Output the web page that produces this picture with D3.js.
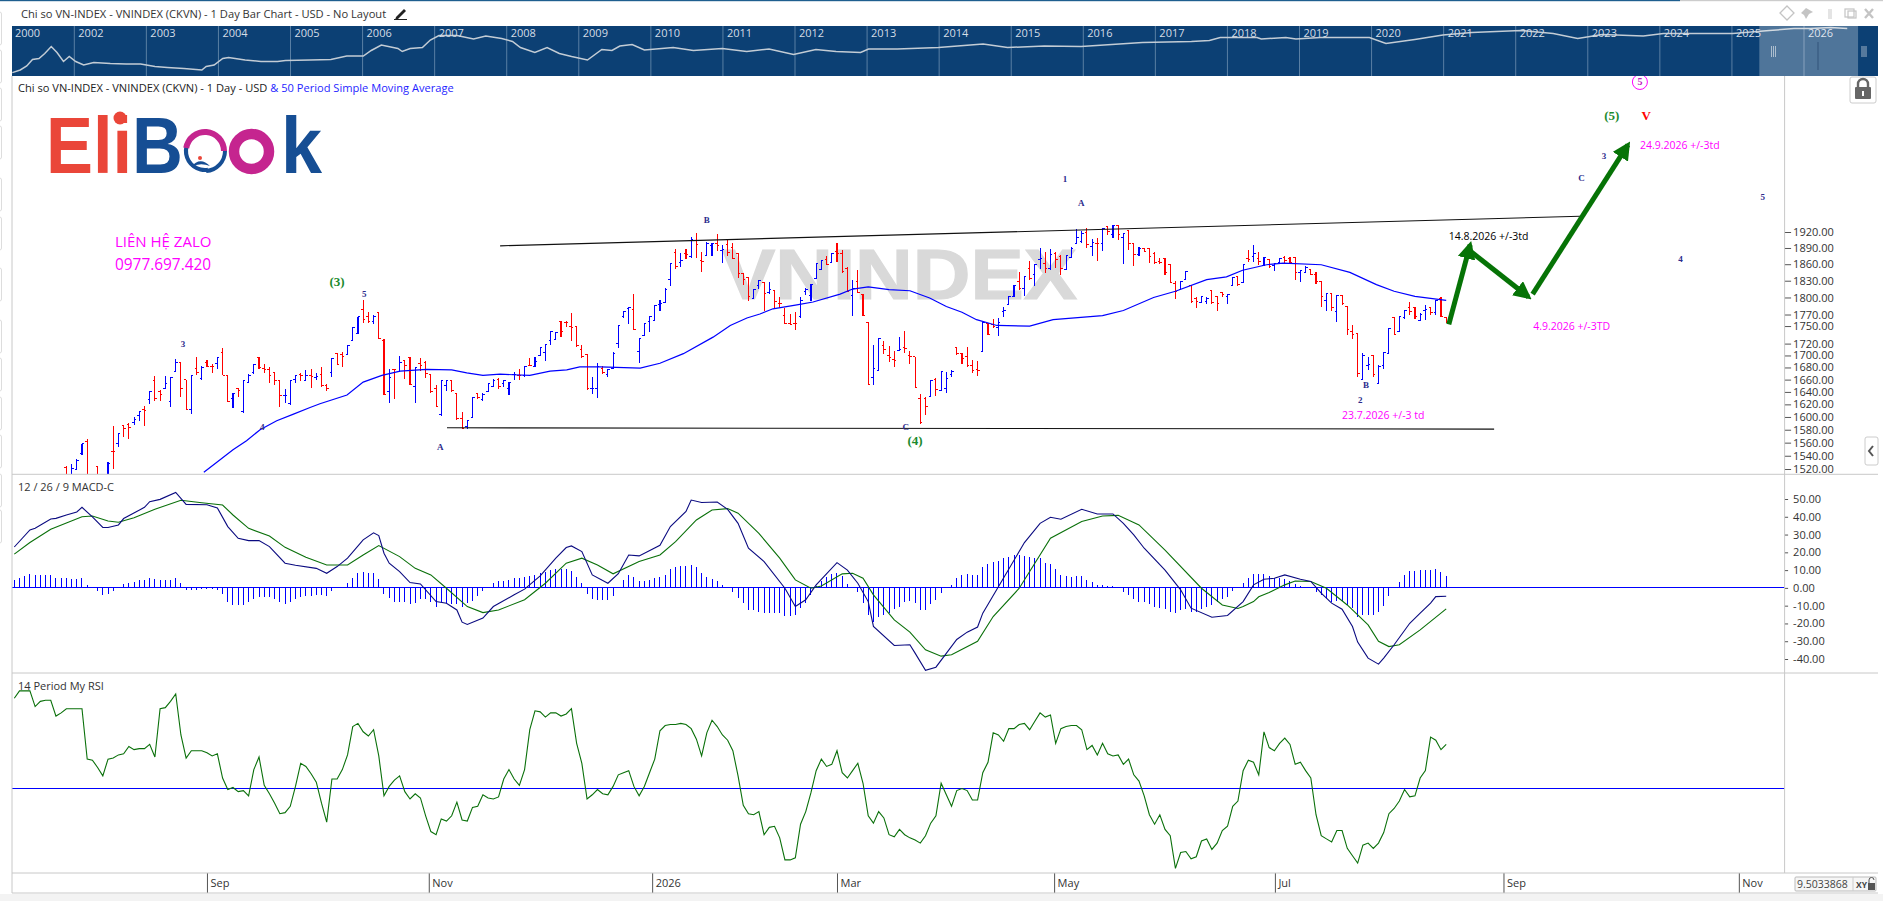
<!DOCTYPE html>
<html>
<head>
<meta charset="utf-8">
<title>VNINDEX</title>
<script src="https://cdn.jsdelivr.net/npm/d3@7"></script>
<style>
  html, body { margin: 0; padding: 0; background: #fff; overflow: hidden; }
  svg { display: block; }
  text { font-family: "Open Sans", sans-serif; }
  .wave { font-family: "Liberation Serif", serif; font-weight: bold; }
  .tick text { font-size: 11px; fill: #333; font-family: "Open Sans", sans-serif; }
  .tick line { stroke: #555; }
</style>
</head>
<body>
<svg id="chart" width="1883" height="901"></svg>
<script>
// daily bars, first ten sit below the visible part of the panel
var opens = [1430,1436,1445,1452,1458,1462,1468,1474,1480,1486,
1522,1505,1520,1543,1562,1505,1523,1492,1505,1547,
1559,1587,1588,1591,1603,1612,1628,1659,1641,1646,
1625,1674,1688,1660,1612,1678,1662,1689,1682,1687,
1705,1667,1629,1645,1608,1656,1671,1697,1678,1676,
1672,1659,1634,1621,1660,1669,1658,1667,1663,1669,
1651,1672,1704,1702,1701,1725,1737,1779,1766,1758,
1774,1726,1640,1677,1674,1691,1697,1648,1686,1689,
1669,1645,1604,1651,1658,1638,1598,1585,1599,1637,
1627,1641,1649,1660,1653,1646,1668,1667,1666,1684,
1681,1700,1705,1726,1727,1758,1757,1749,1749,1710,
1701,1645,1645,1678,1668,1679,1721,1766,1781,1778,
1706,1734,1758,1760,1787,1791,1832,1882,1864,1880,
1874,1904,1866,1876,1895,1898,1886,1896,1890,1880,
1843,1836,1799,1822,1826,1808,1813,1790,1769,1754,
1755,1766,1810,1804,1834,1850,1869,1864,1883,1880,
1853,1804,1829,1806,1757,1664,1675,1717,1700,1693,
1708,1714,1700,1698,1629,1630,1632,1661,1643,1645,
1669,1713,1703,1698,1683,1676,1707,1754,1753,1748,
1776,1788,1802,1829,1816,1852,1841,1868,1862,1852,
1880,1874,1851,1872,1899,1902,1920,1893,1899,1899,
1930,1915,1932,1910,1923,1898,1877,1889,1889,1880,
1865,1870,1859,1825,1815,1832,1822,1799,1791,1792,
1812,1802,1809,1801,1822,1837,1826,1870,1874,1871,
1858,1868,1857,1863,1873,1871,1872,1844,1845,1850,
1841,1828,1795,1807,1776,1804,1784,1741,1737,1661,
1684,1700,1654,1683,1704,1765,1741,1764,1783,1783,
1759,1777,1782,1773,1799,1765]
var highs = [1455,1462,1470,1476,1482,1488,1494,1498,1503,1508,
1524,1527,1535,1558,1565,1508,1524,1510,1530,1586,
1574,1588,1590,1600,1609,1617,1641,1666,1643,1666,
1665,1694,1689,1660,1668,1697,1682,1693,1685,1698,
1712,1667,1638,1646,1659,1669,1686,1697,1686,1680,
1672,1659,1645,1658,1668,1671,1675,1677,1671,1680,
1653,1696,1704,1705,1717,1748,1766,1796,1775,1769,
1774,1727,1677,1678,1699,1692,1697,1680,1695,1690,
1670,1652,1659,1659,1659,1639,1608,1595,1631,1639,
1638,1654,1661,1662,1660,1656,1673,1677,1682,1695,
1698,1714,1719,1741,1740,1759,1759,1772,1750,1718,
1702,1665,1687,1683,1677,1705,1751,1777,1784,1806,
1730,1754,1767,1787,1796,1816,1862,1888,1880,1888,
1910,1918,1883,1901,1899,1916,1896,1905,1899,1880,
1844,1837,1815,1832,1827,1828,1814,1800,1782,1771,
1774,1800,1816,1824,1862,1868,1876,1881,1899,1886,
1854,1832,1849,1807,1757,1717,1729,1725,1716,1707,
1732,1742,1707,1698,1636,1632,1659,1662,1674,1672,
1675,1714,1704,1714,1693,1690,1757,1755,1763,1764,
1784,1802,1823,1845,1839,1865,1861,1890,1882,1888,
1882,1877,1876,1891,1925,1922,1927,1907,1909,1927,
1932,1933,1933,1919,1924,1898,1891,1890,1890,1882,
1872,1871,1860,1830,1830,1847,1823,1800,1803,1801,
1813,1803,1810,1807,1836,1838,1860,1886,1896,1882,
1874,1869,1862,1871,1876,1874,1873,1850,1856,1851,
1845,1829,1808,1808,1805,1805,1785,1751,1738,1704,
1697,1701,1684,1706,1747,1766,1768,1778,1792,1784,
1773,1787,1783,1795,1800,1766]
var lows = [1425,1432,1440,1448,1452,1458,1462,1470,1474,1480,
1500,1500,1520,1541,1489,1480,1490,1490,1500,1520,
1553,1569,1566,1588,1593,1586,1621,1625,1626,1644,
1616,1673,1631,1611,1605,1668,1660,1680,1671,1677,
1667,1624,1614,1631,1606,1655,1670,1678,1671,1655,
1652,1616,1622,1619,1655,1658,1657,1647,1659,1648,
1641,1664,1684,1681,1700,1724,1736,1755,1755,1753,
1727,1635,1622,1628,1673,1661,1651,1622,1674,1663,
1639,1615,1602,1641,1640,1596,1581,1581,1598,1628,
1625,1640,1648,1644,1648,1635,1659,1659,1665,1682,
1680,1699,1691,1717,1726,1731,1748,1725,1714,1695,
1643,1636,1630,1670,1665,1678,1713,1764,1753,1743,
1687,1733,1740,1759,1776,1790,1821,1852,1854,1870,
1872,1872,1846,1875,1876,1885,1862,1876,1869,1835,
1823,1794,1798,1815,1777,1807,1781,1782,1754,1751,
1743,1764,1805,1794,1833,1849,1859,1862,1864,1844,
1809,1768,1808,1767,1651,1651,1674,1702,1689,1681,
1707,1704,1685,1647,1589,1603,1631,1634,1642,1639,
1664,1701,1686,1680,1671,1666,1706,1734,1747,1733,
1766,1787,1800,1814,1802,1832,1821,1852,1844,1850,
1853,1841,1850,1871,1897,1899,1890,1875,1866,1884,
1914,1909,1905,1861,1886,1857,1876,1882,1862,1860,
1860,1841,1825,1798,1814,1831,1790,1781,1790,1789,
1789,1776,1800,1788,1820,1821,1825,1864,1864,1858,
1857,1853,1847,1860,1862,1860,1831,1827,1844,1840,
1824,1783,1776,1777,1757,1786,1734,1728,1665,1660,
1676,1664,1653,1678,1703,1734,1739,1762,1770,1763,
1758,1760,1770,1770,1766,1755]
var closes = [1452,1458,1466,1472,1478,1484,1490,1494,1500,1505,
1505,1521,1533,1558,1495,1485,1495,1508,1529,1546,
1574,1582,1584,1596,1609,1611,1641,1630,1636,1654,
1664,1689,1646,1612,1667,1671,1680,1681,1681,1697,
1667,1625,1637,1642,1659,1667,1685,1680,1677,1666,
1659,1634,1635,1658,1666,1666,1667,1665,1665,1651,
1646,1695,1685,1699,1717,1748,1766,1762,1758,1767,
1729,1636,1664,1676,1688,1684,1652,1680,1684,1670,
1640,1616,1658,1658,1642,1597,1582,1594,1631,1631,
1636,1653,1659,1649,1658,1655,1669,1666,1681,1683,
1690,1713,1719,1741,1739,1740,1756,1748,1717,1699,
1646,1646,1681,1672,1676,1704,1751,1775,1783,1744,
1729,1754,1766,1785,1789,1815,1861,1855,1867,1877,
1906,1896,1865,1899,1898,1894,1887,1882,1871,1843,
1832,1801,1814,1830,1807,1814,1792,1789,1755,1753,
1754,1795,1814,1823,1861,1867,1860,1880,1879,1846,
1810,1816,1809,1768,1652,1678,1729,1710,1696,1692,
1710,1712,1698,1647,1591,1616,1658,1644,1673,1662,
1674,1703,1695,1684,1675,1675,1756,1735,1750,1757,
1777,1801,1821,1816,1837,1834,1860,1871,1852,1878,
1869,1852,1876,1889,1909,1917,1896,1900,1898,1926,
1921,1932,1915,1918,1899,1877,1889,1883,1874,1864,
1864,1845,1827,1810,1829,1846,1792,1792,1802,1798,
1791,1790,1806,1806,1835,1823,1859,1868,1880,1865,
1873,1855,1861,1870,1867,1863,1844,1849,1854,1842,
1829,1801,1807,1783,1804,1789,1744,1735,1670,1700,
1685,1669,1682,1705,1746,1735,1767,1777,1776,1766,
1770,1778,1773,1794,1767,1756]

// 50 period moving average, vertices
var maDays = [36.4,38.9,42,44.6,47.2,50.4,53.5,56.8,58.7,63.9,67,70.6,74.1,79.2,84,86.9,90,93.3,95.8,99,102.9,106.1,108.6,112.5,120.2,124,128.5,134.2,137.5,140.7,143.2,145.7,150.3,153.4,158.6,161,164,168,172,175.8,179,182,184.8,188.7,195,199.5,209,213,218.8,223,229,232.8,235.9,240.5,243.7,251,256.5,261.6,265,269,275]
var maValues = [1515,1530,1549,1563,1580,1594,1604,1615,1621,1635,1656,1667,1674,1677,1676,1671,1667,1669,1668,1667,1674,1676,1681,1681,1679,1687,1703,1731,1751,1764,1771,1780,1787,1792,1806,1815,1819,1814,1812,1799,1784,1774,1761,1751,1750,1761,1768,1777,1800,1811,1832,1837,1849,1859,1862,1859,1845,1823,1811,1802,1795]

var macdDays = [0,3,4,7,8,10,12,13,15,17,18,20,21,25,26,28,31,33,37,39,41,43,45,47,49,52,54,58,60,62,64,67,69,70,71,72,74,76,78,81,83,85,86,87,90,92,96,98,101,104,106,107,109,111,114,116,118,120,124,126,129,130,132,135,137,139,141,144,148,150,152,154,158,160,162,164,165,169,172,173,175,177,181,183,185,186,194,197,199,201,205,208,211,213,215,217,221,224,226,230,233,236,238,240,242,244,247,249,251,253,255,257,258,260,262,263,265,268,270,272,273,275]
var macdValues = [23,32.6,33.5,38.8,39.1,41,42.7,45.3,40,34,34,35.4,39,45.3,48.5,49.8,53.7,47,46.8,45,34.5,27.9,26.6,26.6,23.2,13.9,12.7,11,8.2,12,16.7,27,31,29.4,19.5,13.9,9.2,3,2.2,-7.7,-8.6,-12.4,-19.3,-20.6,-17,-10.5,-3.9,-0.7,6.7,16.7,22.7,23.6,20.4,7.3,2.6,8,18.5,18,24,34.5,43,49.4,48,48.3,44.2,36.3,22.3,14.8,-0.2,-10.5,-6.7,1.7,14.2,10,2.6,-7.7,-21.7,-32.4,-32,-36.7,-46.4,-44.6,-29,-24.9,-22,-14.2,25.5,36.3,39.7,38.6,44.2,41.6,41.6,36.3,29.8,22.3,10,-1.1,-11.4,-16.5,-15.5,-7.7,1.7,4.9,5.4,7.3,4.9,3.6,-3,-8.6,-12,-21.7,-30.5,-39.5,-42.9,-39.5,-32,-19.9,-14.2,-8.6,-4.9,-4.7]
var signalDays = [0,3,7,13,15,18,20,23,27,32,36,40,42,45,49,52,56,60,64,67,70,74,77,80,83,87,90,93,98,102,106,109,112,115,120,124,127,131,134,137,139,143,147,150,153,155,159,161,163,165,169,172,175,178,180,185,188,193,199,205,209,212,216,221,228,232,235,236,238,239,241,244,246,249,252,256,260,262,264,266,270,275]
var signalValues = [19,25.5,33,40,40.4,37.6,36.9,39.5,44.2,49.3,47.9,46.6,41,33.5,29.2,22.8,17.2,12.9,12.9,18.5,23.8,17.6,11,7.3,-0.2,-10.5,-13.9,-12.4,-6.7,2.6,13.9,16.7,12.9,7.9,14.8,18.5,26,38.2,43.8,44.6,42,30.7,16.7,4.5,-0.2,1.1,7.9,8.2,5.4,-3.9,-18,-24.9,-34.8,-38.4,-37.6,-30,-16.1,-0.2,27.9,37.3,40.4,40.8,35.4,21.3,-0.2,-9.6,-11.6,-10.5,-7.7,-5,-2.6,1.7,3.9,3.6,-0.2,-9.6,-20.8,-30,-33,-32,-23.6,-11.8]
var histValues = [4.5,5.4,6.7,7.7,7.3,7.3,7.3,7.3,5.8,5.8,5.4,5,5,5.8,1.7,0,-2,-4.1,-3.4,-2,0.6,2.2,2.8,3.2,4.3,4.5,5.4,5,4.5,4.5,4.5,5.6,2.8,-1.1,-1.1,-1.1,-0.8,-0.8,-0.8,-1.1,-3.2,-8.2,-9.7,-9.9,-9.6,-8.2,-6.2,-5.1,-5.1,-5.4,-6.4,-8.2,-9,-8,-6,-5.2,-4.5,-4.5,-4.1,-4.1,-4.5,-1.5,-0.2,0.4,2.8,5.6,8.4,8.8,8.4,8.4,5,-3.4,-5.8,-7.9,-7.9,-8.2,-9.2,-8.6,-6.4,-6.4,-8.2,-10.5,-7.9,-8.6,-9.2,-9.2,-10.5,-8.6,-7.3,-4.5,-2,0.6,3,3.6,3.9,4.5,5.6,5.4,6.4,6.7,7.3,8.2,9.2,10,10.5,10.5,10.9,9.6,6.2,2.8,-3.2,-6.4,-6.7,-6.7,-6.6,-4.5,0.4,4.5,7.3,6.2,3.9,3.9,4.5,5.8,6.4,7.3,10.9,11.8,12.4,12.4,12.9,11.8,8.6,6,5,3.9,1.7,0,-2.1,-5.8,-8.6,-12.4,-12.4,-13.3,-13.9,-13.9,-13.9,-14.2,-15.7,-15.7,-15.2,-11.4,-8.6,-3.9,1.1,3.6,6,7.9,8.2,6.7,2.2,0,-2.1,-8.6,-15.2,-19.3,-16.5,-15.5,-14.2,-12,-10.9,-8.2,-7.3,-8.6,-12.7,-12.7,-9,-6.7,-2.6,0,1.7,5.8,7.3,7.9,7.3,7.3,11.6,13.5,14.6,15.4,16.7,17.6,18.5,18.5,18.2,17.2,16.7,17,13.9,13.3,10.5,7.3,6.6,6.4,6.7,6.7,4.5,3.4,1.9,1.7,1.1,0.9,0,-2.1,-3.9,-6.4,-7.9,-8.2,-9.2,-10.5,-11.2,-12,-13.3,-13.9,-12.7,-12,-13.3,-13.3,-12,-11,-9.7,-8.2,-6.2,-5.2,-1.5,0,2.6,5.4,7.9,7.9,7.9,6.7,5.8,5.4,4.9,3.6,2.2,1.3,0.7,0,-2.1,-3.9,-5.8,-8.1,-7.3,-7.3,-9.6,-11.4,-16.1,-15.5,-15.5,-15.5,-13.3,-10.1,-4.5,0,3.4,7.3,9.6,9.6,10.1,10.1,10.1,10.7,9,6.7]

var rsiValues = [0.86,0.93,0.93,0.93,0.78,0.83,0.84,0.84,0.69,0.72,
0.76,0.76,0.76,0.76,0.28,0.27,0.2,0.12,0.28,0.29,
0.32,0.33,0.4,0.37,0.38,0.38,0.42,0.3,0.76,0.77,
0.83,0.9,0.51,0.29,0.36,0.36,0.36,0.34,0.31,0.33,
0.1,-0.01,0.01,-0.03,-0.02,-0.07,0.18,0.3,0.03,-0.05,
-0.14,-0.24,-0.23,-0.17,0.02,0.24,0.21,0.14,0.06,-0.14,
-0.32,0.09,0.09,0.18,0.32,0.59,0.62,0.54,0.5,0.56,
0.31,-0.07,0.02,0.08,0.12,-0.03,-0.1,-0.05,-0.09,-0.26,
-0.41,-0.44,-0.29,-0.31,-0.26,-0.13,-0.3,-0.31,-0.18,-0.17,
-0.06,-0.09,-0.1,-0.08,0.09,0.18,0.09,0.03,0.18,0.56,
0.74,0.73,0.68,0.72,0.72,0.69,0.71,0.76,0.43,0.24,
-0.1,-0.06,-0.01,-0.05,-0.06,0.02,0.13,0.15,0.17,0.02,
-0.07,0.02,0.15,0.28,0.55,0.6,0.61,0.61,0.62,0.61,
0.57,0.47,0.31,0.53,0.65,0.59,0.51,0.46,0.36,0.12,
-0.16,-0.24,-0.25,-0.22,-0.44,-0.37,-0.36,-0.47,-0.68,-0.68,
-0.66,-0.34,-0.22,-0.04,0.17,0.28,0.21,0.23,0.36,0.15,
0.1,0.17,0.24,0.05,-0.26,-0.33,-0.22,-0.28,-0.44,-0.46,
-0.39,-0.44,-0.47,-0.49,-0.52,-0.45,-0.33,-0.26,0.05,-0.06,
-0.17,-0.02,0,-0.02,-0.11,-0.11,0.15,0.25,0.53,0.51,
0.45,0.57,0.57,0.61,0.62,0.56,0.64,0.72,0.68,0.7,
0.43,0.57,0.59,0.6,0.6,0.56,0.37,0.41,0.32,0.43,
0.33,0.31,0.32,0.23,0.28,0.13,0.07,-0.07,-0.25,-0.34,
-0.25,-0.39,-0.45,-0.76,-0.61,-0.6,-0.67,-0.65,-0.5,-0.48,
-0.58,-0.52,-0.4,-0.36,-0.17,-0.12,0.17,0.27,0.25,0.13,
0.54,0.39,0.36,0.43,0.48,0.42,0.23,0.25,0.17,0.1,
-0.25,-0.45,-0.48,-0.51,-0.4,-0.4,-0.57,-0.64,-0.71,-0.54,
-0.52,-0.57,-0.52,-0.42,-0.24,-0.19,-0.12,-0.01,-0.08,-0.07,
0.1,0.17,0.49,0.46,0.37,0.42]

// navigator strip: year position and relative height of the long history
var navYears = [2001.14,2001.25,2001.34,2001.42,2001.51,2001.59,2001.68,2001.76,2001.85,2001.93,2002.02,2002.13,2002.27,2002.5,2002.72,2002.92,2003.12,2003.29,2003.52,2003.77,2003.83,2003.94,2004.06,2004.14,2004.37,2004.59,2004.82,2004.93,2005.27,2005.56,2005.78,2006.01,2006.12,2006.26,2006.49,2006.55,2006.66,2006.83,2006.94,2007.06,2007.31,2007.54,2007.71,2007.93,2008.08,2008.19,2008.39,2008.56,2008.73,2008.9,2009.12,2009.32,2009.46,2009.57,2009.74,2009.91,2010.31,2010.59,2010.99,2011.33,2011.64,2011.98,2012.29,2012.57,2012.91,2013.02,2013.42,2013.99,2014.61,2014.95,2015.46,2015.97,2016.82,2017.5,2017.75,2017.9,2018.41,2018.47,2018.81,2018.95,2019.29,2019.97,2020.2,2020.6,2020.99,2021.39,2022.07,2022.52,2022.86,2023.2,2023.77,2024.05,2025.01,2025.52,2025.86,2026.09,2026.37,2026.6]
var navLevels = [6.7,12,20,33,35,45,59,47,29,39,29,22,27,25,24,24,19,17,15,12,19,22,35,37,32,29,29,31,32,33,40,40,51,62,55,49,55,57,72,81,81,74,80,75,69,57,47,57,45,39,32,53,51,60,63,52,57,51,55,49,54,43,53,49,47,54,54,57,64,57,60,59,67,69,71,77,77,74,77,74,77,77,65,73,82,87,91,85,75,83,80,85,85,91,95,95,97,95]
var navTickYears = [2002,2003,2004,2005,2006,2007,2008,2009,2010,2011,2012,2013,2014,2015,2016,2017,2018,2019,2020,2021,2022,2023,2024,2025,2026]

var priceTicks = [1920,1890,1860,1830,1800,1770,1750,1720,1700,1680,1660,1640,1620,1600,1580,1560,1540,1520]
var macdTicks = [50,40,30,20,10,0,-10,-20,-30,-40]
var rsiTicks = [0.8,0.6,0.4,0.2,0,-0.2,-0.4,-0.6,-0.8]
var monthLabels = ["Sep","Nov","2026","Mar","May","Jul","Sep","Nov"]
var monthDays = [37,79.6,122.5,158,199.7,242.1,286,331.2]

// hand drawn lines on the chart: [day, price] ends
var trendLines = [[[93.3,1894],[300.7,1950]],[[83.1,1583],[284.2,1581]]]
var arrows = [[[275.5,1753],[279.6,1896]],[[279.9,1882],[290.8,1801]],[[291.6,1806],[309.9,2092]]]

var waveLabels = [["5",67.2,1806],["3",32.4,1720],["4",47.6,1584],["A",81.8,1554],["B",133,1943],["1",201.8,2024],["A",204.9,1975],["C",171.2,1585],["3",305.3,2070],["C",301,2026],["5",335.8,1987],["4",320,1870],["B",259.6,1651],["2",258.5,1627]]
var bigWaves = [["(3)",62,1828],["(4)",173,1563],["(5)",306.8,2154]]
var notes = [["24.9.2026 +/-3td",312.2,2092,"#ff00ff"],["14.8.2026 +/-3td",275.5,1912,"#000"],["4.9.2026 +/-3TD",291.7,1750,"#ff00ff"],["23.7.2026 +/-3 td",255,1602,"#ff00ff"]]

var W = 1883, H = 901
var left = 12, axisX = 1784.6
var svg = d3.select("#chart")

var x = d3.scaleLinear().domain([0, 275]).range([14.3, 1446.2])
var yPrice = d3.scaleLog().domain([1920, 1520]).range([232, 469])
var yMacd = d3.scaleLinear().domain([50, -40]).range([499, 659])
var yRsi = d3.scaleLinear().domain([0.8, -0.8]).range([704.5, 872.5])
var xNav = d3.scaleLinear().domain([2002, 2026]).range([74.3, 1804])
var yNav = d3.scaleLinear().domain([0, 100]).range([76, 26])

var defs = svg.append("defs")
function clip(id, x0, y0, w, h) {
  defs.append("clipPath").attr("id", id).append("rect").attr("x", x0).attr("y", y0).attr("width", w).attr("height", h)
}
clip("priceClip", left, 76, axisX - left, 398)
clip("macdClip", left, 474, axisX - left, 199)
clip("rsiClip", left, 673, axisX - left, 200)
clip("rsiAxisClip", axisX, 673, 70, 200)

defs.append("marker").attr("id", "head")
  .attr("markerUnits", "userSpaceOnUse")
  .attr("viewBox", "0 0 18 18").attr("refX", 14).attr("refY", 9)
  .attr("markerWidth", 18).attr("markerHeight", 18).attr("orient", "auto")
  .append("path").attr("d", "M0,0L18,9L0,18Z").attr("fill", "#067306")

// --- top bar ---
svg.append("rect").attr("width", W).attr("height", H).attr("fill", "#fff")
svg.append("rect").attr("x", 0).attr("y", 0).attr("width", 1680).attr("height", 1.2).attr("fill", "#1f5f8f")
svg.append("rect").attr("x", 1680).attr("y", 0).attr("width", 203).attr("height", 1.2).attr("fill", "#ccc")
svg.append("text").attr("x", 21).attr("y", 18).attr("font-size", 11.15).attr("fill", "#333")
  .text("Chi so VN-INDEX - VNINDEX (CKVN) - 1 Day Bar Chart - USD - No Layout")

// pencil
svg.append("path").attr("d", "M396,17L404,9L406,11L398,19L395,20Z").attr("fill", "#222")
svg.append("line").attr("x1", 394).attr("x2", 407).attr("y1", 19.5).attr("y2", 19.5).attr("stroke", "#222")

// window buttons
var grey = "#c4c4c4"
svg.append("path").attr("d", "M1787,6L1794,13L1787,20L1780,13Z").attr("fill", "none").attr("stroke", grey).attr("stroke-width", 1.3)
svg.append("path").attr("d", "M1806,8L1813,12L1809,14L1806,19L1804,15L1801,13Z").attr("fill", grey)
svg.append("rect").attr("x", 1828).attr("y", 9).attr("width", 4).attr("height", 10).attr("fill", "#e4e4e4")
svg.append("rect").attr("x", 1845).attr("y", 9).attr("width", 9).attr("height", 8).attr("fill", "none").attr("stroke", grey).attr("stroke-width", 1.2)
svg.append("rect").attr("x", 1848).attr("y", 11).attr("width", 8).attr("height", 7).attr("fill", "none").attr("stroke", grey).attr("stroke-width", 1.2)
svg.append("path").attr("d", "M1865,9L1873,18M1873,9L1865,18").attr("stroke", grey).attr("stroke-width", 2.4)

// left toolbar stubs
var stubTops = [12,50,88,126,178,217,268,320,358,397,435,474,510]
svg.selectAll("rect.stub").data(stubTops).enter().append("rect")
  .attr("class", "stub").attr("x", -2).attr("y", function(d){ return d })
  .attr("width", 3.5).attr("height", 33).attr("rx", 2).attr("fill", "#fff").attr("stroke", "#ddd")

// --- navigator ---
svg.append("rect").attr("x", left).attr("y", 26).attr("width", 1878 - left).attr("height", 50).attr("fill", "#0c4074")
svg.selectAll("line.navTick").data(navTickYears).enter().append("line")
  .attr("class", "navTick")
  .attr("x1", function(d){ return xNav(d) }).attr("x2", function(d){ return xNav(d) })
  .attr("y1", 26).attr("y2", 76).attr("stroke", "#6d8fb0").attr("stroke-width", 0.8)

var navLine = d3.line().x(function(d){ return xNav(d[0]) }).y(function(d){ return yNav(d[1]) })
svg.append("path").datum(d3.zip(navYears, navLevels)).attr("d", navLine)
  .attr("fill", "none").attr("stroke", "#c3ccd5").attr("stroke-width", 1.5)

svg.selectAll("text.navLabel").data(navTickYears).enter().append("text")
  .attr("class", "navLabel")
  .attr("x", function(d){ return xNav(d) + 4 }).attr("y", 37)
  .attr("font-size", 11).attr("fill", "#d5dde6")
  .text(function(d){ return d })
svg.append("text").attr("x", 15).attr("y", 37).attr("font-size", 11).attr("fill", "#d5dde6").text("2000")

// selected window on the navigator
svg.append("rect").attr("x", xNav(2025.38)).attr("y", 26).attr("width", xNav(2026.75) - xNav(2025.38)).attr("height", 50)
  .attr("fill", "#fff").attr("fill-opacity", 0.28)
svg.append("line").attr("x1", 1818).attr("x2", 1818).attr("y1", 42).attr("y2", 70).attr("stroke", "#33557a").attr("stroke-width", 1)
;[1771.5, 1773.5, 1775.5, 1862, 1864, 1866].forEach(function(gx){
  svg.append("line").attr("x1", gx).attr("x2", gx).attr("y1", 46).attr("y2", 57).attr("stroke", "#c5d0dc").attr("stroke-width", 0.8)
})

// --- price panel ---
svg.append("text").attr("x", 722).attr("y", 299)
  .style("font-family", "'Liberation Sans', sans-serif")
  .attr("font-size", 71).attr("font-weight", "bold")
  .attr("fill", "#d9d9d9").attr("stroke", "#d9d9d9").attr("stroke-width", 1.2)
  .attr("textLength", 355).attr("lengthAdjust", "spacingAndGlyphs")
  .text("VNINDEX")

var sub = svg.append("text").attr("x", 18).attr("y", 92).attr("font-size", 11.1).attr("fill", "#222")
sub.append("tspan").text("Chi so VN-INDEX - VNINDEX (CKVN) - 1 Day - USD ")
sub.append("tspan").attr("fill", "#1f1fff").text("& 50 Period Simple Moving Average")

// logo
var logoRed = "#ea4639", logoBlue = "#164e94", logoPink = "#c5258f"
var logoText = svg.append("text").attr("x", 46).attr("y", 173)
  .style("font-family", "'Liberation Sans', sans-serif")
  .attr("font-size", 79).attr("font-weight", "bold")
  .attr("textLength", 137).attr("lengthAdjust", "spacingAndGlyphs")
logoText.append("tspan").attr("fill", logoRed).text("Eli")
logoText.append("tspan").attr("fill", logoBlue).text("B")
svg.append("circle").attr("cx", 120).attr("cy", 118).attr("r", 6.5).attr("fill", logoRed)
svg.append("text").attr("x", 281).attr("y", 173)
  .style("font-family", "'Liberation Sans', sans-serif")
  .attr("font-size", 79).attr("font-weight", "bold").attr("fill", logoBlue)
  .attr("textLength", 41).attr("lengthAdjust", "spacingAndGlyphs").text("k")
svg.append("circle").attr("cx", 251.5).attr("cy", 151.5).attr("r", 17.5).attr("fill", "none").attr("stroke", logoPink).attr("stroke-width", 10.5)
var swirl = d3.arc()
svg.append("path").attr("transform", "translate(205,151)")
  .attr("d", swirl({innerRadius: 17, outerRadius: 21, startAngle: Math.PI * 0.95, endAngle: Math.PI * 1.95}))
  .attr("fill", logoBlue)
svg.append("path").attr("transform", "translate(205,151)")
  .attr("d", swirl({innerRadius: 16, outerRadius: 22, startAngle: -Math.PI * 0.45, endAngle: Math.PI * 0.5}))
  .attr("fill", logoPink)
svg.append("path").attr("transform", "translate(205,151)")
  .attr("d", swirl({innerRadius: 18, outerRadius: 22, startAngle: Math.PI * 0.5, endAngle: Math.PI * 0.98}))
  .attr("fill", logoBlue)
svg.append("circle").attr("cx", 200).attr("cy", 158).attr("r", 2).attr("fill", logoRed)
svg.append("path").attr("d", "M191,167Q200,156 210,166Q200,162 191,167Z").attr("fill", logoBlue)

svg.append("text").attr("x", 115).attr("y", 247).attr("font-size", 15).attr("fill", "#ff00ff").text("LIÊN HỆ ZALO")
svg.append("text").attr("x", 115).attr("y", 270).attr("font-size", 15.4).attr("fill", "#ff00ff").text("0977.697.420")

var pricePanel = svg.append("g").attr("clip-path", "url(#priceClip)")

var bars = pricePanel.selectAll("g.bar").data(d3.range(opens.length)).enter().append("g")
  .attr("class", "bar")
  .attr("stroke", function(i){ return closes[i] >= opens[i] ? "#0000ff" : "#ff0000" })
  .attr("shape-rendering", "crispEdges")
bars.append("line")
  .attr("x1", function(i){ return x(i) }).attr("x2", function(i){ return x(i) })
  .attr("y1", function(i){ return yPrice(highs[i]) }).attr("y2", function(i){ return yPrice(lows[i]) })
  .attr("stroke-width", 1.1)
bars.append("line")
  .attr("x1", function(i){ return x(i) - 2 }).attr("x2", function(i){ return x(i) })
  .attr("y1", function(i){ return yPrice(opens[i]) }).attr("y2", function(i){ return yPrice(opens[i]) })
bars.append("line")
  .attr("x1", function(i){ return x(i) }).attr("x2", function(i){ return x(i) + 2 })
  .attr("y1", function(i){ return yPrice(closes[i]) }).attr("y2", function(i){ return yPrice(closes[i]) })

var priceLine = d3.line().x(function(d){ return x(d[0]) }).y(function(d){ return yPrice(d[1]) })

pricePanel.append("path").datum(d3.zip(maDays, maValues)).attr("d", priceLine)
  .attr("fill", "none").attr("stroke", "#0000ff").attr("stroke-width", 1.2)

pricePanel.selectAll("path.trend").data(trendLines).enter().append("path")
  .attr("class", "trend").attr("d", priceLine)
  .attr("fill", "none").attr("stroke", "#111").attr("stroke-width", 1.1)

pricePanel.selectAll("path.arrow").data(arrows).enter().append("path")
  .attr("class", "arrow").attr("d", priceLine)
  .attr("fill", "none").attr("stroke", "#067306").attr("stroke-width", 5)
  .attr("marker-end", "url(#head)")

pricePanel.selectAll("text.wave").data(waveLabels).enter().append("text")
  .attr("class", "wave")
  .attr("x", function(d){ return x(d[1]) }).attr("y", function(d){ return yPrice(d[2]) })
  .attr("dy", "0.35em").attr("text-anchor", "middle").attr("font-size", 9).attr("fill", "#2b2b8c")
  .text(function(d){ return d[0] })

pricePanel.selectAll("text.bigwave").data(bigWaves).enter().append("text")
  .attr("class", "wave bigwave")
  .attr("x", function(d){ return x(d[1]) }).attr("y", function(d){ return yPrice(d[2]) })
  .attr("dy", "0.35em").attr("text-anchor", "middle").attr("font-size", 13).attr("fill", "#1b8a2e")
  .text(function(d){ return d[0] })

pricePanel.append("text").attr("class", "wave")
  .attr("x", x(313.4)).attr("y", yPrice(2154)).attr("dy", "0.35em").attr("text-anchor", "middle")
  .attr("font-size", 13).attr("fill", "#ff0000").text("V")

pricePanel.append("circle").attr("cx", x(312.2)).attr("cy", yPrice(2226)).attr("r", 7.5)
  .attr("fill", "none").attr("stroke", "#ff00ff").attr("stroke-width", 1)
pricePanel.append("text").attr("class", "wave")
  .attr("x", x(312.2)).attr("y", yPrice(2226)).attr("dy", "0.35em").attr("text-anchor", "middle")
  .attr("font-size", 10).attr("fill", "#c020c0").text("5")

pricePanel.selectAll("text.note").data(notes).enter().append("text")
  .attr("class", "note")
  .attr("x", function(d){ return x(d[1]) }).attr("y", function(d){ return yPrice(d[2]) })
  .attr("dy", "0.35em").attr("font-size", 10.5).attr("fill", function(d){ return d[3] })
  .text(function(d){ return d[0] })

// --- MACD panel ---
var macdPanel = svg.append("g").attr("clip-path", "url(#macdClip)")
macdPanel.selectAll("line.hist").data(histValues).enter().append("line")
  .attr("class", "hist")
  .attr("x1", function(d, i){ return x(i) }).attr("x2", function(d, i){ return x(i) })
  .attr("y1", yMacd(0)).attr("y2", function(d){ return yMacd(d) })
  .attr("stroke", "#0000ff").attr("stroke-width", 1).attr("shape-rendering", "crispEdges")
macdPanel.append("line").attr("x1", left).attr("x2", axisX).attr("y1", yMacd(0)).attr("y2", yMacd(0))
  .attr("stroke", "#0000ff").attr("stroke-width", 1).attr("shape-rendering", "crispEdges")

var macdLine = d3.line().x(function(d){ return x(d[0]) }).y(function(d){ return yMacd(d[1]) })
macdPanel.append("path").datum(d3.zip(signalDays, signalValues)).attr("d", macdLine)
  .attr("fill", "none").attr("stroke", "#0a700a").attr("stroke-width", 1.1)
macdPanel.append("path").datum(d3.zip(macdDays, macdValues)).attr("d", macdLine)
  .attr("fill", "none").attr("stroke", "#0a0a80").attr("stroke-width", 1.1)

svg.append("text").attr("x", 18).attr("y", 491).attr("font-size", 11).attr("fill", "#333").text("12 / 26 / 9 MACD-C")

// --- RSI panel ---
var rsiPanel = svg.append("g").attr("clip-path", "url(#rsiClip)")
rsiPanel.append("line").attr("x1", left).attr("x2", axisX).attr("y1", yRsi(0)).attr("y2", yRsi(0))
  .attr("stroke", "#0000ff").attr("stroke-width", 1).attr("shape-rendering", "crispEdges")
rsiPanel.append("path").datum(rsiValues)
  .attr("d", d3.line().x(function(d, i){ return x(i) }).y(function(d){ return yRsi(d) }))
  .attr("fill", "none").attr("stroke", "#0a700a").attr("stroke-width", 1.1)

svg.append("text").attr("x", 18).attr("y", 690).attr("font-size", 11).attr("fill", "#333").text("14 Period My RSI")

// --- axes ---
function money(d){ return d.toFixed(2) }

var priceAxis = svg.append("g").attr("transform", "translate(" + axisX + ",0)")
  .call(d3.axisRight(yPrice).tickValues(priceTicks).tickSize(6.5).tickPadding(2).tickFormat(money))
priceAxis.select(".domain").remove()

var macdAxis = svg.append("g").attr("transform", "translate(" + axisX + ",0)")
  .call(d3.axisRight(yMacd).tickValues(macdTicks).tickSize(3.5).tickPadding(5).tickFormat(money))
macdAxis.select(".domain").remove()

var rsiAxis = svg.append("g").attr("transform", "translate(" + axisX + ",0)")
  .attr("clip-path", "url(#rsiAxisClip)")
  .call(d3.axisRight(yRsi).tickValues(rsiTicks).tickSize(3.5).tickPadding(5).tickFormat(function(d){ return d.toFixed(3) }))
rsiAxis.select(".domain").remove()

var timeAxis = svg.append("g").attr("transform", "translate(0,873)")
  .call(d3.axisBottom(x).tickValues(monthDays).tickSize(20)
    .tickFormat(function(d){ return monthLabels[monthDays.indexOf(d)] }))
timeAxis.select(".domain").remove()
timeAxis.selectAll(".tick line").attr("stroke", "#c8c8c8")
timeAxis.selectAll(".tick text").attr("x", 3).attr("y", 6).attr("dy", "0.71em").attr("text-anchor", "start")

// frame
var frame = "#c8c8c8"
;[474.3, 673, 873, 893].forEach(function(fy){
  svg.append("line").attr("x1", left).attr("x2", 1878).attr("y1", fy).attr("y2", fy).attr("stroke", frame)
})
svg.append("line").attr("x1", left).attr("x2", left).attr("y1", 76).attr("y2", 893).attr("stroke", frame)
svg.append("line").attr("x1", axisX).attr("x2", axisX).attr("y1", 76).attr("y2", 873).attr("stroke", frame)
svg.append("rect").attr("x", 0).attr("y", 894).attr("width", W).attr("height", 7).attr("fill", "#f3f3f3")

// lock button
svg.append("rect").attr("x", 1850).attr("y", 77).attr("width", 26).attr("height", 26).attr("rx", 2).attr("fill", "#fff").attr("stroke", "#ccc")
svg.append("rect").attr("x", 1855).attr("y", 87).attr("width", 16).attr("height", 12).attr("rx", 1).attr("fill", "#666")
svg.append("path").attr("d", "M1858,87V84a5,5 0 0 1 10,0V87").attr("fill", "none").attr("stroke", "#666").attr("stroke-width", 2.4)
svg.append("rect").attr("x", 1862).attr("y", 91).attr("width", 2).attr("height", 5).attr("fill", "#fff")

// collapse button
svg.append("rect").attr("x", 1865).attr("y", 437).attr("width", 13).attr("height", 28).attr("rx", 2).attr("fill", "#fff").attr("stroke", "#ccc")
svg.append("path").attr("d", "M1873,446L1869,451L1873,456").attr("fill", "none").attr("stroke", "#555").attr("stroke-width", 2)

// value box
svg.append("rect").attr("x", 1795).attr("y", 877).attr("width", 81).attr("height", 14).attr("rx", 1).attr("fill", "#f6f6f6").attr("stroke", "#bbb")
svg.append("text").attr("x", 1797).attr("y", 888).attr("font-size", 10.5).attr("fill", "#444").text("9.5033868")
svg.append("line").attr("x1", 1853).attr("x2", 1853).attr("y1", 877).attr("y2", 891).attr("stroke", "#ccc")
svg.append("text").attr("x", 1856).attr("y", 888).attr("font-size", 8.5).attr("font-weight", "bold").attr("fill", "#444").text("XY")
svg.append("rect").attr("x", 1868).attr("y", 883).attr("width", 7).attr("height", 7).attr("fill", "#555")
svg.append("path").attr("d", "M1869,883V880a2.5,2.5 0 0 1 5,0").attr("fill", "none").attr("stroke", "#555")
</script>
</body>
</html>
